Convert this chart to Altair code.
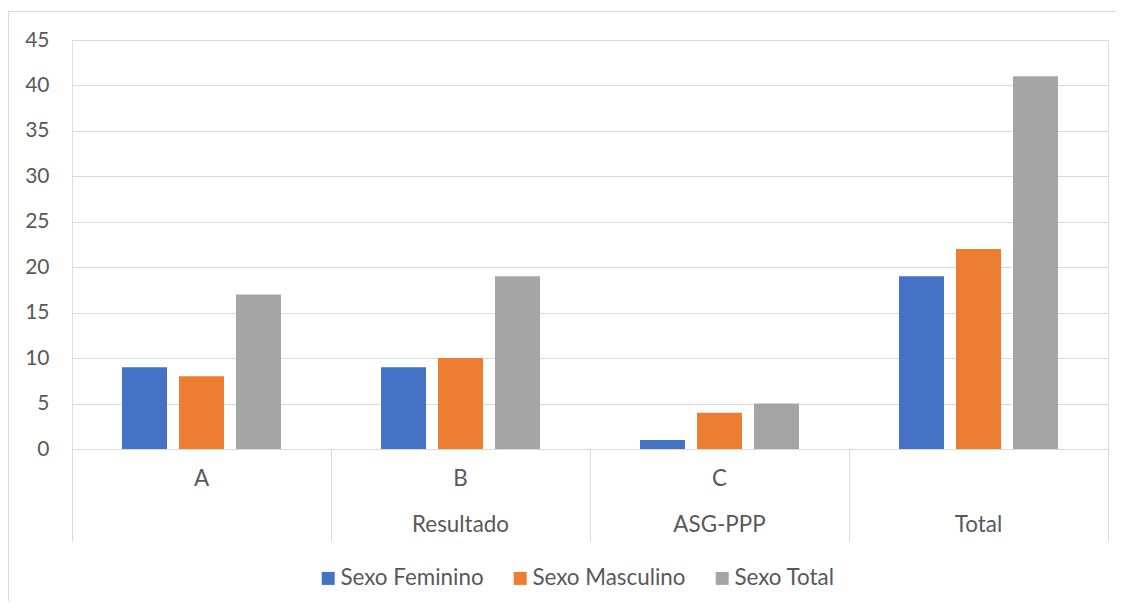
import altair as alt
import pandas as pd

categories = ["A", "B", "C", "Total"]
row1_labels = ["A", "B", "C", ""]
row2_labels = ["", "Resultado", "ASG-PPP", "Total"]
series = ["Sexo Feminino", "Sexo Masculino", "Sexo Total"]
feminino = [9, 9, 1, 19]
masculino = [8, 10, 4, 22]
total = [17, 19, 5, 41]
colors = ["#4472C4", "#ED7D31", "#A5A5A5"]
y_ticks = [0, 5, 10, 15, 20, 25, 30, 35, 40, 45]

rows = []
for i, c in enumerate(categories):
    for s, vals in zip(series, [feminino, masculino, total]):
        rows.append({"cat": c, "serie": s, "valor": vals[i]})
df = pd.DataFrame(rows)
labels_df = pd.DataFrame({"cat": categories, "l1": row1_labels, "l2": row2_labels})

W, H = 1036, 409
TEXT = "#595959"
GRID = "#D9D9D9"
FONT = "Lato"
FS = 22.4
FSY = 21

xscale = alt.Scale(domain=categories, paddingInner=0, paddingOuter=0)
xaxis = alt.Axis(title=None, labels=False, grid=False, tickBand="extent", tickSize=92,
                 tickColor=GRID, domainColor=GRID, tickWidth=1, domainWidth=1)

bars = alt.Chart(df).mark_bar().encode(
    x=alt.X("cat:N", scale=xscale, sort=categories, axis=xaxis),
    xOffset=alt.XOffset("serie:N", sort=series,
                        scale=alt.Scale(domain=series, paddingInner=0.2105, paddingOuter=0.8772)),
    y=alt.Y("valor:Q", scale=alt.Scale(domain=[0, 45], nice=False),
            axis=alt.Axis(title=None, values=y_ticks, domain=False, ticks=False, tickSize=0,
                          labelPadding=23, gridColor=GRID, gridWidth=1, labelColor=TEXT,
                          labelFontSize=FSY, labelFont=FONT)),
    color=alt.Color("serie:N", sort=series, scale=alt.Scale(domain=series, range=colors),
                    legend=alt.Legend(title=None, orient="none", legendX=245, legendY=527,
                                      direction="horizontal", symbolType="square",
                                      symbolSize=169, labelFontSize=FS, labelFont=FONT,
                                      labelColor=TEXT, labelOffset=1, columnPadding=25,
                                      padding=0, symbolStrokeWidth=0, symbolOpacity=1)),
)

t1 = alt.Chart(labels_df).mark_text(fontSize=FS, font=FONT, color=TEXT, baseline="middle").encode(
    x=alt.X("cat:N", scale=xscale, sort=categories, axis=xaxis),
    y=alt.value(439),
    text="l1:N",
)
t2 = alt.Chart(labels_df).mark_text(fontSize=FS, font=FONT, color=TEXT, baseline="middle").encode(
    x=alt.X("cat:N", scale=xscale, sort=categories, axis=xaxis),
    y=alt.value(485),
    text="l2:N",
)

frame = alt.Chart(pd.DataFrame({"k": [0]})).mark_rect(fillOpacity=0, stroke=GRID, strokeWidth=1.2).encode(
    x=alt.value(-63.5), x2=alt.value(1090), y=alt.value(-28.5), y2=alt.value(610)
)

chart = alt.layer(frame, bars, t1, t2).properties(
    width=W, height=H,
    padding={"left": 64, "top": 32, "right": 9, "bottom": 152},
    autosize=alt.AutoSizeParams(type="none"),
).configure_view(strokeWidth=0, strokeOpacity=0).configure(background="white")

chart.save("out.html", embed_options={"renderer": "svg", "actions": False})
